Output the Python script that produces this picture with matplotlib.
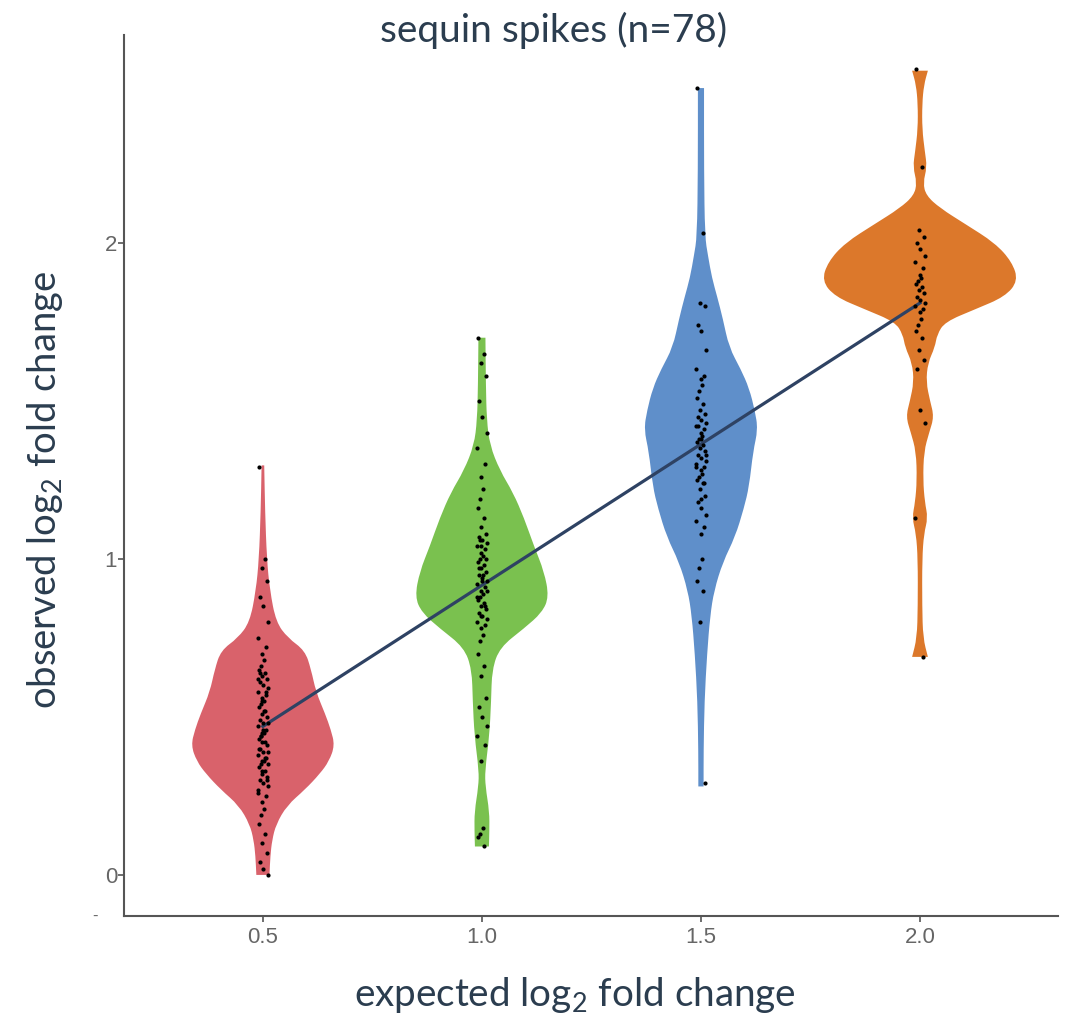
import matplotlib.pyplot as plt
import numpy as np
from matplotlib.path import Path
from matplotlib.patches import PathPatch

# group positions / colours
groups = [0.5, 1.0, 1.5, 2.0]
colors = ['#D9626B', '#7AC14F', '#5F8FCA', '#DC782B']
tick_labels = ['0.5', '1.0', '1.5', '2.0']

# violin outlines: y level -> half width (data units)
red_y = [1.296, 1.15, 1.0, 0.90, 0.80, 0.75, 0.71, 0.65, 0.58, 0.51, 0.46, 0.41, 0.36, 0.32, 0.27, 0.22, 0.16, 0.11, 0.06, 0.0]
red_w = [0.003, 0.005, 0.009, 0.016, 0.030, 0.057, 0.096, 0.110, 0.121, 0.142, 0.155, 0.164, 0.151, 0.130, 0.096, 0.055, 0.030, 0.021, 0.017, 0.015]

green_y = [1.70, 1.55, 1.44, 1.36, 1.28, 1.21, 1.13, 1.04, 0.96, 0.88, 0.83, 0.78, 0.72, 0.65, 0.55, 0.44, 0.33, 0.28, 0.20, 0.14, 0.09]
green_w = [0.008, 0.009, 0.011, 0.018, 0.041, 0.071, 0.096, 0.119, 0.142, 0.153, 0.137, 0.096, 0.041, 0.023, 0.021, 0.017, 0.007, 0.008, 0.017, 0.017, 0.016]

blue_y = [2.49, 2.23, 2.02, 1.96, 1.89, 1.83, 1.76, 1.67, 1.60, 1.54, 1.47, 1.41, 1.34, 1.23, 1.16, 1.07, 0.99, 0.90, 0.82, 0.70, 0.55, 0.39, 0.28]
blue_w = [0.007, 0.007, 0.009, 0.016, 0.025, 0.037, 0.050, 0.064, 0.091, 0.110, 0.123, 0.130, 0.119, 0.110, 0.098, 0.078, 0.050, 0.030, 0.021, 0.014, 0.008, 0.006, 0.006]

orange_y = [2.545, 2.50, 2.44, 2.36, 2.29, 2.24, 2.19, 2.15, 2.11, 2.06, 2.00, 1.94, 1.88, 1.83, 1.79, 1.75, 1.71, 1.67, 1.62, 1.56, 1.50, 1.45, 1.40, 1.34, 1.25, 1.18, 1.13, 1.08, 1.00, 0.85, 0.75, 0.69]
orange_w = [0.018, 0.009, 0.005, 0.005, 0.011, 0.016, 0.007, 0.014, 0.046, 0.103, 0.171, 0.210, 0.224, 0.194, 0.126, 0.057, 0.039, 0.034, 0.018, 0.014, 0.023, 0.032, 0.021, 0.009, 0.007, 0.011, 0.018, 0.009, 0.005, 0.005, 0.007, 0.018]

# observed values (dots)
red_pts = [1.29, 1.00, 0.97, 0.93, 0.88, 0.85, 0.80, 0.75, 0.72, 0.70, 0.68, 0.66, 0.65, 0.64, 0.63, 0.62,
           0.61, 0.60, 0.59, 0.58, 0.57, 0.56, 0.55, 0.54, 0.53, 0.52, 0.51, 0.50, 0.49, 0.48, 0.48, 0.47,
           0.46, 0.45, 0.45, 0.44, 0.43, 0.42, 0.42, 0.41, 0.40, 0.39, 0.39, 0.38, 0.37, 0.36, 0.36, 0.35,
           0.34, 0.33, 0.32, 0.31, 0.30, 0.29, 0.28, 0.27, 0.25, 0.23, 0.21, 0.19, 0.16, 0.13, 0.10, 0.07,
           0.04, 0.02, 0.00, 0.62, 0.58, 0.55, 0.52, 0.44, 0.40, 0.37, 0.33, 0.30, 0.64, 0.46, 0.35, 0.26]
green_pts = [1.70, 1.65, 1.62, 1.58, 1.50, 1.45, 1.40, 1.35, 1.30, 1.26, 1.22, 1.19, 1.16, 1.13, 1.10, 1.08,
             1.07, 1.06, 1.05, 1.04, 1.03, 1.02, 1.01, 1.00, 0.99, 0.98, 0.97, 0.96, 0.95, 0.94, 0.93, 0.92,
             0.91, 0.90, 0.89, 0.88, 0.87, 0.86, 0.85, 0.84, 0.83, 0.82, 0.81, 0.80, 0.79, 0.78, 0.76, 0.74,
             0.70, 0.66, 0.63, 0.56, 0.53, 0.50, 0.47, 0.44, 0.41, 0.36, 0.15, 0.13, 0.12, 0.09,
             1.04, 1.00, 0.97, 0.93, 0.90, 0.88, 0.85, 0.82, 0.95, 1.06]
blue_pts = [2.49, 2.03, 1.81, 1.80, 1.74, 1.72, 1.66, 1.60, 1.58, 1.57, 1.55, 1.53, 1.51, 1.49, 1.47, 1.46,
            1.45, 1.44, 1.43, 1.42, 1.41, 1.40, 1.39, 1.38, 1.37, 1.36, 1.35, 1.34, 1.33, 1.32, 1.31, 1.30,
            1.29, 1.28, 1.27, 1.26, 1.25, 1.24, 1.22, 1.20, 1.18, 1.16, 1.14, 1.12, 1.10, 1.08, 1.00, 0.97,
            0.93, 0.90, 0.80, 0.29, 1.42, 1.38, 1.33, 1.29, 1.24, 1.19]
orange_pts = [2.55, 2.24, 2.04, 2.02, 2.00, 1.98, 1.96, 1.94, 1.92, 1.90, 1.89, 1.88, 1.87, 1.86, 1.85, 1.84,
              1.83, 1.82, 1.81, 1.80, 1.79, 1.78, 1.76, 1.74, 1.72, 1.70, 1.66, 1.63, 1.60, 1.47, 1.43,
              1.13, 0.69]

# fitted trend line
fit_x = [0.5, 2.0]
fit_y = [0.47, 1.81]

# small fixed horizontal spread for the dots
jitter = [-0.010, 0.004, -0.003, 0.009, -0.007, 0.001, 0.012, -0.012, 0.006, -0.001, 0.003, -0.005]


def _side(pts):
    # quadratic bezier through midpoints -> rounded outline
    verts = [pts[0], (pts[0] + pts[1]) / 2]
    codes = [Path.LINETO, Path.LINETO]
    for i in range(1, len(pts) - 1):
        verts += [pts[i], (pts[i] + pts[i + 1]) / 2]
        codes += [Path.CURVE3, Path.CURVE3]
    verts.append(pts[-1])
    codes.append(Path.LINETO)
    return verts, codes


def violin_patch(xc, ys, ws, color):
    ys = np.array(ys)
    ws = np.array(ws)
    right = np.column_stack([xc + ws, ys])
    left = np.column_stack([xc - ws, ys])[::-1]
    v1, c1 = _side(right)
    v2, c2 = _side(left)
    c1[0] = Path.MOVETO
    verts = v1 + v2 + [v1[0]]
    codes = c1 + c2 + [Path.CLOSEPOLY]
    return PathPatch(Path(verts, codes), facecolor=color, edgecolor='none', zorder=1)


plt.rcParams['font.family'] = ['Liberation Sans', 'DejaVu Sans']
plt.rcParams['mathtext.fontset'] = 'custom'
plt.rcParams['mathtext.rm'] = 'Lato'

fig = plt.figure(figsize=(10.73, 10.17), dpi=100)
ax = fig.add_axes([0.1156, 0.0993, 0.8704, 0.8663])

profiles = [(red_y, red_w), (green_y, green_w), (blue_y, blue_w), (orange_y, orange_w)]
points = [red_pts, green_pts, blue_pts, orange_pts]

for xc, col, (py, pw), pts in zip(groups, colors, profiles, points):
    ax.add_patch(violin_patch(xc, py, pw, col))
    xs = [xc + jitter[i % len(jitter)] for i in range(len(pts))]
    ax.scatter(xs, pts, s=9, color='black', linewidths=0, zorder=3)

ax.plot(fit_x, fit_y, color='#2E4263', linewidth=2.3, zorder=2)

ax.set_xlim(0.183, 2.315)
ax.set_ylim(-0.13, 2.658)
ax.set_xticks(groups)
ax.set_xticklabels(tick_labels)
ax.set_yticks([0, 1, 2])

for s in ['top', 'right']:
    ax.spines[s].set_visible(False)
for s in ['left', 'bottom']:
    ax.spines[s].set_color('#555555')
    ax.spines[s].set_linewidth(1.5)

ax.tick_params(axis='both', colors='#555555', labelcolor='#666666', labelsize=16, length=4, width=1.2)
ax.tick_params(axis='x', pad=4)
ax.tick_params(axis='y', pad=1)

text_col = '#2B3D4F'
fig.text(0.516, 0.9705, 'sequin spikes (n=78)', fontsize=28, color=text_col, family='Lato',
         ha='center', va='center')
fig.text(0.536, 0.0216, r'expected log$_2$ fold change', fontsize=27.8, color=text_col, family='Lato',
         ha='center', va='center')
fig.text(0.042, 0.518, r'observed log$_2$ fold change', fontsize=27.5, color=text_col, family='Lato',
         ha='center', va='center', rotation=90)
fig.text(0.089, 0.099, '-', fontsize=12, color='#666666', ha='center', va='center')

fig.savefig('out.png', dpi=100)
